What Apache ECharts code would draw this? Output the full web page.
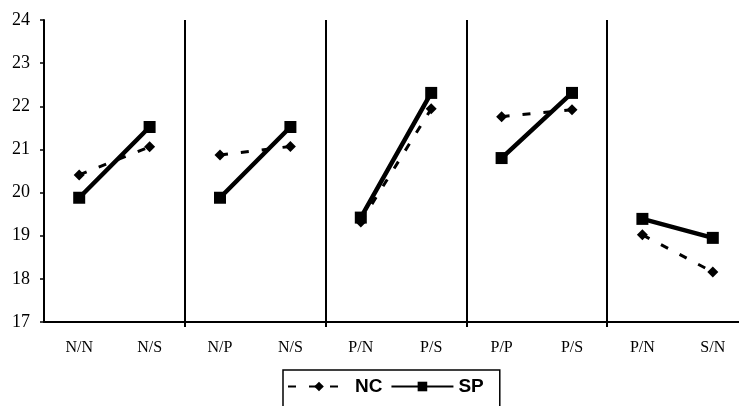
<!DOCTYPE html>
<html><head><meta charset="utf-8">
<script src="https://cdn.jsdelivr.net/npm/echarts@6/dist/echarts.min.js"></script>
<style>html,body{margin:0;padding:0;background:#fff}#c{width:739px;height:406px}</style>
</head><body><div id="c"></div>
<script>
var categories = ['N/N','N/S','N/P','N/S','P/N','P/S','P/P','P/S','P/N','S/N'];
var ncValues = [20.41, 21.06, 20.87, 21.07, 19.32, 21.94, 21.76, 21.92, 19.02, 18.16];
var spValues = [19.88, 21.52, 19.88, 21.52, 19.42, 22.31, 20.80, 22.31, 19.39, 18.95];
var yTicks = [17, 18, 19, 20, 21, 22, 23, 24];

function pairs(vals){
  var out = [];
  for (var i = 0; i < vals.length; i++){
    out.push([i, vals[i]]);
    if (i % 2 === 1 && i < vals.length - 1) out.push('-');
  }
  return out;
}
function sepFn(index){ return index > 0 && index % 2 === 0; }

var chart = echarts.init(document.getElementById('c'));
chart.setOption({
  animation: false,
  backgroundColor: '#fff',
  grid: { left: 44, top: 20, width: 704, height: 302, containLabel: false, outerBoundsMode: 'none' },
  xAxis: {
    type: 'category', data: categories, boundaryGap: true,
    axisLine: { lineStyle: { color: '#000', width: 2 } },
    axisTick: { show: true, interval: sepFn, length: 5, lineStyle: { color: '#000', width: 2 } },
    splitLine: { show: true, interval: sepFn, lineStyle: { color: '#000', width: 2 } },
    axisLabel: { interval: 0, color: '#000', fontFamily: 'Liberation Serif', fontSize: 16, margin: 18 }
  },
  yAxis: {
    type: 'value', min: yTicks[0], max: yTicks[yTicks.length-1], interval: 1,
    axisLine: { show: true, lineStyle: { color: '#000', width: 2 } },
    axisTick: { show: true, length: 4, lineStyle: { color: '#000', width: 1.5 } },
    splitLine: { show: false },
    axisLabel: { color: '#000', fontFamily: 'Liberation Serif', fontSize: 18, margin: 14 }
  },
  legend: {
    top: 370, left: 283,
    padding: [7, 16, 12, 4],
    borderColor: '#000', borderWidth: 1.5,
    itemWidth: 62, itemHeight: 12, itemGap: 8,
    textStyle: { color: '#000', fontFamily: 'Liberation Sans', fontWeight: 'bold', fontSize: 19 },
    data: ['NC', 'SP']
  },
  series: [
    {
      name: 'NC', type: 'line', data: pairs(ncValues),
      symbol: 'diamond', symbolSize: 11,
      lineStyle: { color: '#000', width: 3, type: [8, 13] },
      itemStyle: { color: '#000' }, z: 3
    },
    {
      name: 'SP', type: 'line', data: pairs(spValues),
      symbol: 'rect', symbolSize: 12,
      lineStyle: { color: '#000', width: 4.5 },
      itemStyle: { color: '#000' }, z: 4
    }
  ]
});
</script></body></html>
